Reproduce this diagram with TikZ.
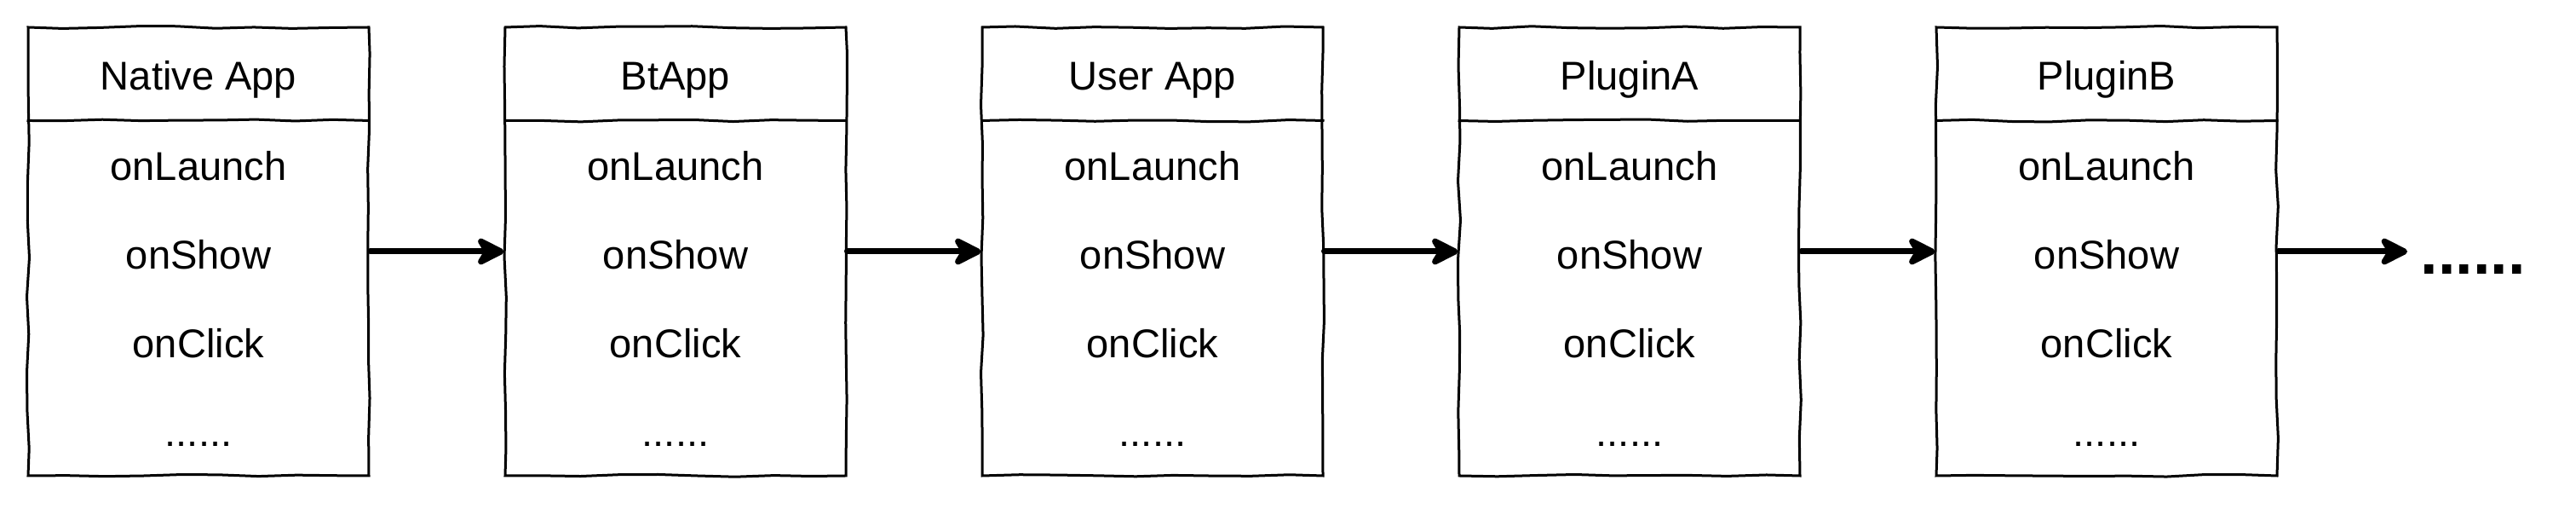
\documentclass[tikz,border=0pt]{standalone}
\usepackage{fontspec}
\setmainfont{Liberation Sans}
\usetikzlibrary{positioning,arrows.meta,decorations.pathmorphing}

\tikzset{
  sketch/.style={line width=0.03cm, decorate,
    decoration={random steps, segment length=0.45cm, amplitude=0.015cm}},
  appbox/.style={sketch, draw, minimum width=4cm, minimum height=5.26cm, inner sep=0pt},
  boxtext/.style={anchor=base, inner sep=0pt, font=\fontsize{13.4}{16}\selectfont},
  flow/.style={line width=0.07cm, line cap=round,
    -{Stealth[length=0.4cm, width=0.4cm, inset=0.12cm, round]}},
}

\begin{document}
\pgfmathsetseed{7}
\begin{tikzpicture}[node distance=1.57cm]

  \useasboundingbox (0,0) rectangle (30.24,6.04);

  \node (native) [appbox] at (2.33,3.09) {};
  \node (bt) [appbox, right=of native] {};
  \node (user) [appbox, right=of bt] {};
  \node (pluga) [appbox, right=of user] {};
  \node (plugb) [appbox, right=of pluga] {};

  \coordinate (more) at (28.26,3.09);
  \node (etc) [anchor=base west, inner sep=0pt, font=\fontsize{21}{24}\selectfont\bfseries] at (28.41,2.82) {......};

  % header lines
  \draw [sketch] ([yshift=-1.11cm]native.north west) -- ([yshift=-1.11cm]native.north east);
  \draw [sketch] ([yshift=-1.11cm]bt.north west) -- ([yshift=-1.11cm]bt.north east);
  \draw [sketch] ([yshift=-1.11cm]user.north west) -- ([yshift=-1.11cm]user.north east);
  \draw [sketch] ([yshift=-1.11cm]pluga.north west) -- ([yshift=-1.11cm]pluga.north east);
  \draw [sketch] ([yshift=-1.11cm]plugb.north west) -- ([yshift=-1.11cm]plugb.north east);

  \node (native-title) [boxtext] at ([yshift=-0.75cm]native.north) {Native App};
  \node (native-launch) [boxtext] at ([yshift=-1.815cm]native.north) {onLaunch};
  \node (native-show) [boxtext] at ([yshift=-2.855cm]native.north) {onShow};
  \node (native-click) [boxtext] at ([yshift=-3.895cm]native.north) {onClick};
  \node (native-more) [boxtext] at ([yshift=-4.935cm]native.north) {......};

  \node (bt-title) [boxtext] at ([yshift=-0.75cm]bt.north) {BtApp};
  \node (bt-launch) [boxtext] at ([yshift=-1.815cm]bt.north) {onLaunch};
  \node (bt-show) [boxtext] at ([yshift=-2.855cm]bt.north) {onShow};
  \node (bt-click) [boxtext] at ([yshift=-3.895cm]bt.north) {onClick};
  \node (bt-more) [boxtext] at ([yshift=-4.935cm]bt.north) {......};

  \node (user-title) [boxtext] at ([yshift=-0.75cm]user.north) {User App};
  \node (user-launch) [boxtext] at ([yshift=-1.815cm]user.north) {onLaunch};
  \node (user-show) [boxtext] at ([yshift=-2.855cm]user.north) {onShow};
  \node (user-click) [boxtext] at ([yshift=-3.895cm]user.north) {onClick};
  \node (user-more) [boxtext] at ([yshift=-4.935cm]user.north) {......};

  \node (pluga-title) [boxtext] at ([yshift=-0.75cm]pluga.north) {PluginA};
  \node (pluga-launch) [boxtext] at ([yshift=-1.815cm]pluga.north) {onLaunch};
  \node (pluga-show) [boxtext] at ([yshift=-2.855cm]pluga.north) {onShow};
  \node (pluga-click) [boxtext] at ([yshift=-3.895cm]pluga.north) {onClick};
  \node (pluga-more) [boxtext] at ([yshift=-4.935cm]pluga.north) {......};

  \node (plugb-title) [boxtext] at ([yshift=-0.75cm]plugb.north) {PluginB};
  \node (plugb-launch) [boxtext] at ([yshift=-1.815cm]plugb.north) {onLaunch};
  \node (plugb-show) [boxtext] at ([yshift=-2.855cm]plugb.north) {onShow};
  \node (plugb-click) [boxtext] at ([yshift=-3.895cm]plugb.north) {onClick};
  \node (plugb-more) [boxtext] at ([yshift=-4.935cm]plugb.north) {......};

  \draw [flow] (native) -- (bt);
  \draw [flow] (bt) -- (user);
  \draw [flow] (user) -- (pluga);
  \draw [flow] (pluga) -- (plugb);
  \draw [flow] (plugb) -- (more);

\end{tikzpicture}
\end{document}
